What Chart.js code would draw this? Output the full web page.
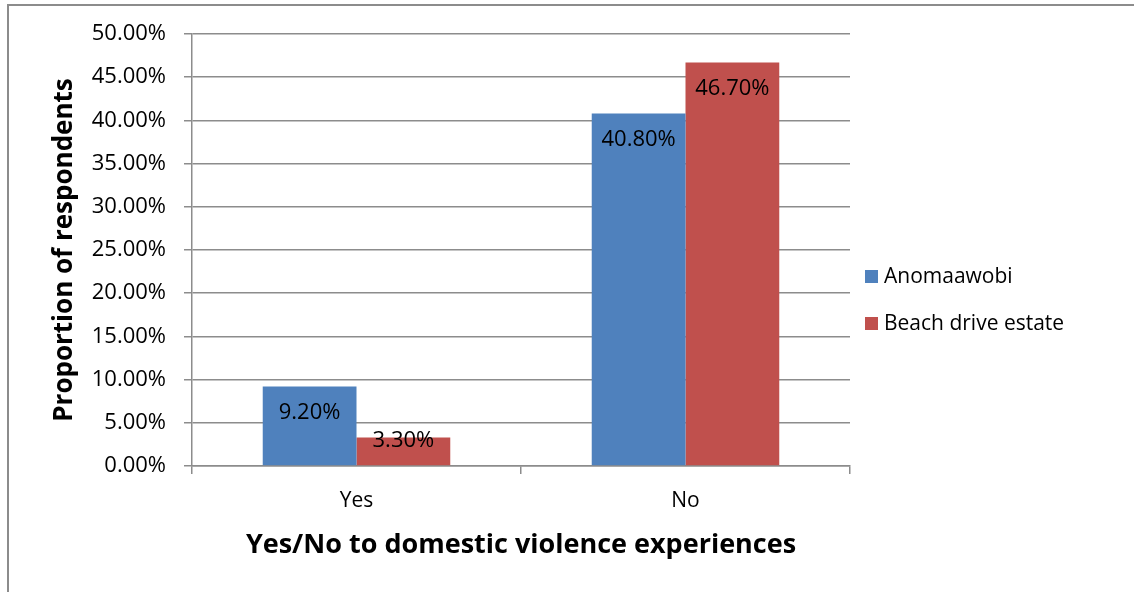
<!DOCTYPE html>
<html>
<head>
<meta charset="utf-8">
<script src="https://cdn.jsdelivr.net/npm/chart.js@4.4.1/dist/chart.umd.min.js"></script>
<style>
  body { margin: 0; background: #fff; }
  #wrap { position: relative; width: 1134px; height: 592px; overflow: hidden; }
  #frame { position: absolute; left: 7px; top: 4px; width: 1200px; height: 700px;
           border-left: 2px solid #8c8c8c; border-top: 2px solid #8c8c8c; }
  canvas { position: absolute; left: 0; top: 0; }
</style>
</head>
<body>
<div id="wrap">
  <div id="frame"></div>
  <canvas id="chart"></canvas>
</div>
<script>
'use strict'
// data (percent)
var categories = ['Yes', 'No'];
var anomaawobi = [9.2, 40.8];
var beachDrive = [3.3, 46.7];
var seriesNames = ['Anomaawobi', 'Beach drive estate'];
var seriesColors = ['#4f81bd', '#c0504d'];

var gridColor = '#8c8c8c';
var fontFamily = '"Open Sans", "Noto Sans", sans-serif';

// value labels inside the top of each bar
var barLabels = {
  id: 'barLabels',
  afterDatasetsDraw: function (chart) {
    var ctx = chart.ctx;
    ctx.save();
    ctx.font = '22px ' + fontFamily;
    ctx.fillStyle = '#000';
    ctx.textAlign = 'center';
    ctx.textBaseline = 'middle';
    chart.data.datasets.forEach(function (ds, i) {
      chart.getDatasetMeta(i).data.forEach(function (bar, j) {
        var y = Math.min(bar.y + 26, bar.base - 25);
        ctx.fillText(ds.data[j].toFixed(2) + '%', bar.x, y);
      });
    });
    ctx.restore();
  }
};

// legend drawn at the right, centred on the figure
var sideLegend = {
  id: 'sideLegend',
  afterDraw: function (chart) {
    var ctx = chart.ctx;
    ctx.save();
    ctx.font = '21px ' + fontFamily;
    ctx.textBaseline = 'middle';
    ctx.textAlign = 'left';
    chart.data.datasets.forEach(function (ds, i) {
      var cy = 277 + i * 47;
      ctx.fillStyle = ds.backgroundColor;
      ctx.fillRect(865, cy - 7, 13, 13);
      ctx.fillStyle = '#000';
      ctx.fillText(ds.label, 884, cy);
    });
    ctx.restore();
  }
};

new Chart(document.getElementById('chart'), {
  type: 'bar',
  data: {
    labels: categories,
    datasets: [
      { label: seriesNames[0], data: anomaawobi, backgroundColor: seriesColors[0] },
      { label: seriesNames[1], data: beachDrive, backgroundColor: seriesColors[1] }
    ]
  },
  options: {
    responsive: true,
    maintainAspectRatio: false,
    animation: false,
    devicePixelRatio: 1,
    layout: { padding: { left: 0, top: 34, right: 284, bottom: 0 } },
    datasets: { bar: { categoryPercentage: 0.57, barPercentage: 1 } },
    plugins: {
      legend: { display: false },
      tooltip: { enabled: false }
    },
    scales: {
      x: {
        afterFit: function (s) { s.height = 126; },
        grid: { offset: true, drawOnChartArea: false, drawTicks: true, tickLength: 8,
                color: gridColor, lineWidth: 1.5 },
        border: { color: gridColor, width: 1.5 },
        ticks: { color: '#000', padding: 14, font: { family: fontFamily, size: 21 } },
        title: {
          display: true,
          text: 'Yes/No to domestic violence experiences',
          color: '#000',
          font: { family: fontFamily, size: 27, weight: 'bold' },
          padding: { top: 0, bottom: 30 }
        }
      },
      y: {
        min: 0,
        max: 50,
        afterFit: function (s) { s.width = 192; },
        grid: { color: gridColor, lineWidth: 1.5, tickLength: 8 },
        border: { color: gridColor, width: 1.5 },
        ticks: {
          stepSize: 5,
          color: '#000',
          padding: 18,
          font: { family: fontFamily, size: 22 },
          callback: function (v) { return v.toFixed(2) + '%'; }
        },
        title: {
          display: true,
          text: 'Proportion of respondents',
          color: '#000',
          font: { family: fontFamily, size: 26, weight: 'bold' },
          padding: { top: 49, bottom: 0 }
        }
      }
    }
  },
  plugins: [barLabels, sideLegend]
});
</script>
</body>
</html>
